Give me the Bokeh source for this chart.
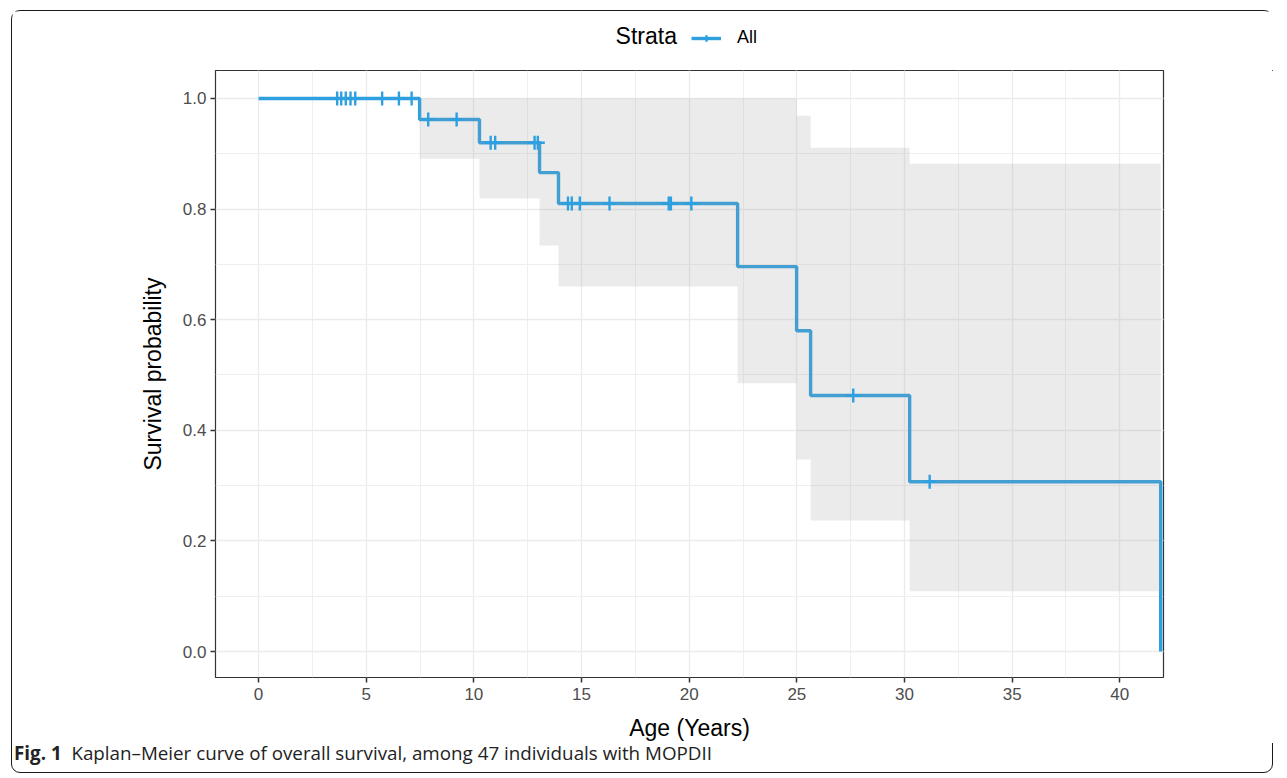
from bokeh.plotting import figure
from bokeh.models import (Range1d, SingleIntervalTicker, Legend, LegendItem,
                          PrintfTickFormatter, Div, Label)
from bokeh.layouts import column
from bokeh.embed import file_html
from bokeh.resources import INLINE

# Kaplan-Meier step curve
times = [0.0, 7.48, 10.26, 13.05, 13.93, 22.25, 24.99, 25.64, 30.24, 41.9]
surv = [1.0, 0.962, 0.920, 0.866, 0.810, 0.696, 0.580, 0.463, 0.307, 0.0]

# confidence band
band_t = [7.48, 10.26, 13.05, 13.93, 22.25, 24.99, 25.64, 30.24, 41.9]
band_lo = [0.891, 0.819, 0.734, 0.660, 0.485, 0.347, 0.237, 0.109, 0.109]
band_hi = [1.0, 1.0, 1.0, 1.0, 1.0, 0.969, 0.911, 0.882, 0.882]

# censored observations
censor_t = [3.65, 3.84, 4.05, 4.27, 4.49, 5.74, 6.52, 7.11,
            7.88, 9.20,
            10.78, 10.99, 12.82, 12.97,
            14.37, 14.55, 14.92, 16.30, 19.05, 19.15, 20.10,
            27.62, 31.17]
censor_s = [1.0] * 8 + [0.962] * 2 + [0.920] * 4 + [0.810] * 7 + [0.463, 0.307]

x_ticks_interval = 5
y_ticks_interval = 0.2
strata_label = "All"
legend_title = "Strata"
x_title = "Age (Years)"
y_title = "Survival probability"
caption_bold = "Fig. 1"
caption_text = "Kaplan\u2013Meier curve of overall survival, among 47 individuals with MOPDII"

BLUE = "#2E9FDF"
FONT = "Liberation Sans"
W = 1262

# ---------- main panel ----------
p = figure(width=W, height=673, sizing_mode="fixed",
           x_range=Range1d(-2.0, 42.03), y_range=Range1d(-0.047, 1.0506),
           output_backend="svg", toolbar_location=None,
           min_border_left=203, min_border_top=0,
           min_border_right=111, min_border_bottom=66)
p.background_fill_color = "white"
p.border_fill_color = "white"
p.outline_line_color = "#333333"
p.outline_line_width = 1.2

p.step(times, surv, mode="after", line_color=BLUE, line_width=3.4)
p.varea_step(x=band_t, y1=band_lo, y2=band_hi, step_mode="after",
             fill_color="#999999", fill_alpha=0.2)
p.scatter(censor_t, censor_s, marker="cross", size=14,
          line_color=BLUE, line_width=2.4)

p.xaxis.ticker = SingleIntervalTicker(interval=x_ticks_interval, num_minor_ticks=2)
p.yaxis.ticker = SingleIntervalTicker(interval=y_ticks_interval, num_minor_ticks=2)
p.yaxis.formatter = PrintfTickFormatter(format="%.1f")

for ax in (p.xaxis, p.yaxis):
    ax.axis_line_color = None
    ax.major_tick_line_color = "#333333"
    ax.major_tick_line_width = 1.5
    ax.major_tick_out = 5
    ax.major_tick_in = 0
    ax.minor_tick_line_color = None
    ax.major_label_text_font = FONT
    ax.major_label_text_font_size = "17px"
    ax.major_label_text_color = "#4D4D4D"
    ax.axis_label_text_font = FONT
    ax.axis_label_text_font_size = "23px"
    ax.axis_label_text_font_style = "normal"
    ax.axis_label_text_color = "black"

p.xaxis.axis_label = x_title
p.yaxis.axis_label = y_title
p.xaxis.major_label_standoff = 5
p.xaxis.axis_label_standoff = 12
p.yaxis.major_label_standoff = 4
p.yaxis.axis_label_standoff = 14

for g in (p.xgrid, p.ygrid):
    g.grid_line_color = "#EBEBEB"
    g.grid_line_width = 1.3
    g.minor_grid_line_color = "#EFEFEF"
    g.minor_grid_line_width = 1.0

# ---------- legend strip ----------
pl = figure(width=W, height=59, sizing_mode="fixed",
            x_range=Range1d(0, 1), y_range=Range1d(0, 1),
            output_backend="svg", toolbar_location=None,
            x_axis_location=None, y_axis_location=None, min_border=0)
pl.outline_line_color = None
pl.xgrid.visible = False
pl.ygrid.visible = False
# glyphs placed outside the visible range: they only feed the legend
leg_line = pl.line([5, 6], [5, 6], line_color=BLUE, line_width=3.4)
leg_cross = pl.scatter([5], [5], marker="cross", size=14, line_color=BLUE, line_width=2.4)

legend = Legend(items=[LegendItem(label=strata_label, renderers=[leg_line, leg_cross])],
                orientation="horizontal", location=(476, 22))
legend.label_text_font = FONT
legend.label_text_font_size = "18px"
legend.label_text_color = "black"
legend.glyph_width = 30
legend.glyph_height = 16
legend.label_standoff = 16
legend.background_fill_alpha = 0
legend.border_line_color = None
legend.margin = 0
legend.padding = 2
pl.add_layout(legend)

pl.add_layout(Label(x=0.422, y=0.593, text=legend_title, text_font=FONT,
                    text_font_size="23px", text_color="black",
                    text_baseline="middle", text_align="left"))

cap = Div(text='<b>%s</b>&nbsp;&nbsp;%s' % (caption_bold, caption_text),
          width=W, height=31, margin=0, sizing_mode="fixed",
          styles={"font-family": "'Open Sans'", "font-size": "18.8px",
                  "color": "#222", "padding-left": "2px",
                  "line-height": "20px"})

layout = column(pl, p, cap, spacing=0, margin=(10, 0, 0, 11), sizing_mode="fixed",
                width=W, height=59 + 673 + 31,
                styles={"border": "1px solid #1a1a1a", "border-radius": "9px",
                        "background": "white"})

open("out.html", "w").write(file_html(layout, INLINE))
